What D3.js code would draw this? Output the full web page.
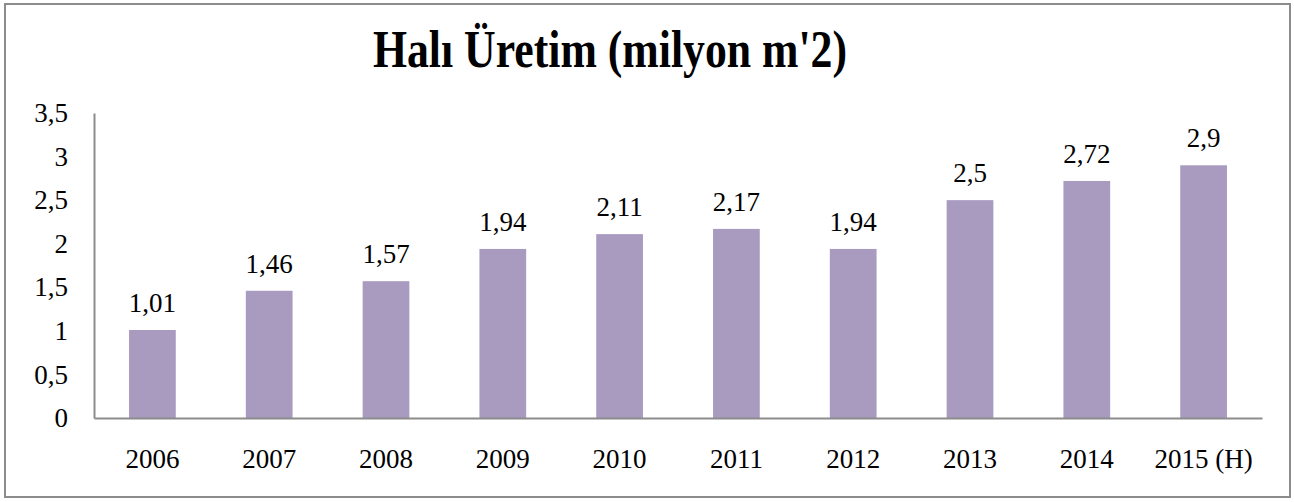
<!DOCTYPE html>
<html>
<head>
<meta charset="utf-8">
<script src="https://cdn.jsdelivr.net/npm/d3@7"></script>
<style>
  html, body { margin: 0; padding: 0; background: #fff; }
  svg { display: block; }
</style>
</head>
<body>
<svg id="chart" width="1294" height="502"></svg>
<script>
const categories = ["2006", "2007", "2008", "2009", "2010", "2011", "2012", "2013", "2014", "2015 (H)"];
const values = [1.01, 1.46, 1.57, 1.94, 2.11, 2.17, 1.94, 2.5, 2.72, 2.9];
const yTicks = [0, 0.5, 1, 1.5, 2, 2.5, 3, 3.5];
const title = "Halı Üretim (milyon m'2)";

const fmt = v => String(v).replace(".", ",");

const svg = d3.select("#chart");

// outer frame
svg.append("rect")
  .attr("x", 5).attr("y", 4).attr("width", 1285).attr("height", 493)
  .attr("fill", "#fff").attr("stroke", "#8c8c8c").attr("stroke-width", 2);

const plot = { left: 94, right: 1262, top: 113, bottom: 418 };

const x = d3.scaleBand().domain(categories)
  .range([plot.left, plot.right]).paddingInner(0.6).paddingOuter(0.3);
const y = d3.scaleLinear().domain([0, 3.5]).range([plot.bottom, plot.top]);

const serif = "'Liberation Serif', 'DejaVu Serif', serif";
const fs = 27;

// title
svg.append("text")
  .attr("x", 610).attr("y", 67)
  .attr("text-anchor", "middle")
  .attr("font-family", serif)
  .attr("font-weight", "bold")
  .attr("font-size", 52)
  .attr("textLength", 474)
  .attr("lengthAdjust", "spacingAndGlyphs")
  .attr("fill", "#000")
  .text(title);

// bars
svg.append("g").selectAll("rect").data(values).join("rect")
  .attr("x", (d, i) => x(categories[i]))
  .attr("y", d => y(d))
  .attr("width", x.bandwidth())
  .attr("height", d => y(0) - y(d))
  .attr("fill", "#a89bbf");

// data labels
svg.append("g").selectAll("text").data(values).join("text")
  .attr("x", (d, i) => x(categories[i]) + x.bandwidth() / 2)
  .attr("y", d => y(d) - 18)
  .attr("text-anchor", "middle")
  .attr("font-family", serif)
  .attr("font-size", fs)
  .attr("fill", "#000")
  .text(d => fmt(d));

// y axis
const yAxis = d3.axisLeft(y).tickValues(yTicks).tickSize(0).tickPadding(26).tickFormat(fmt);
const gy = svg.append("g").attr("transform", `translate(${plot.left},0)`).call(yAxis);
gy.select(".domain").attr("stroke", "#8c8c8c").attr("stroke-width", 2);
gy.selectAll("text").attr("font-family", serif).attr("font-size", fs).attr("fill", "#000");

// x axis
const xAxis = d3.axisBottom(x).tickSize(0).tickPadding(31);
const gx = svg.append("g").attr("transform", `translate(0,${plot.bottom})`).call(xAxis);
gx.select(".domain").attr("stroke", "#8c8c8c").attr("stroke-width", 2);
gx.selectAll("text").attr("font-family", serif).attr("font-size", fs).attr("fill", "#000");
</script>
</body>
</html>
